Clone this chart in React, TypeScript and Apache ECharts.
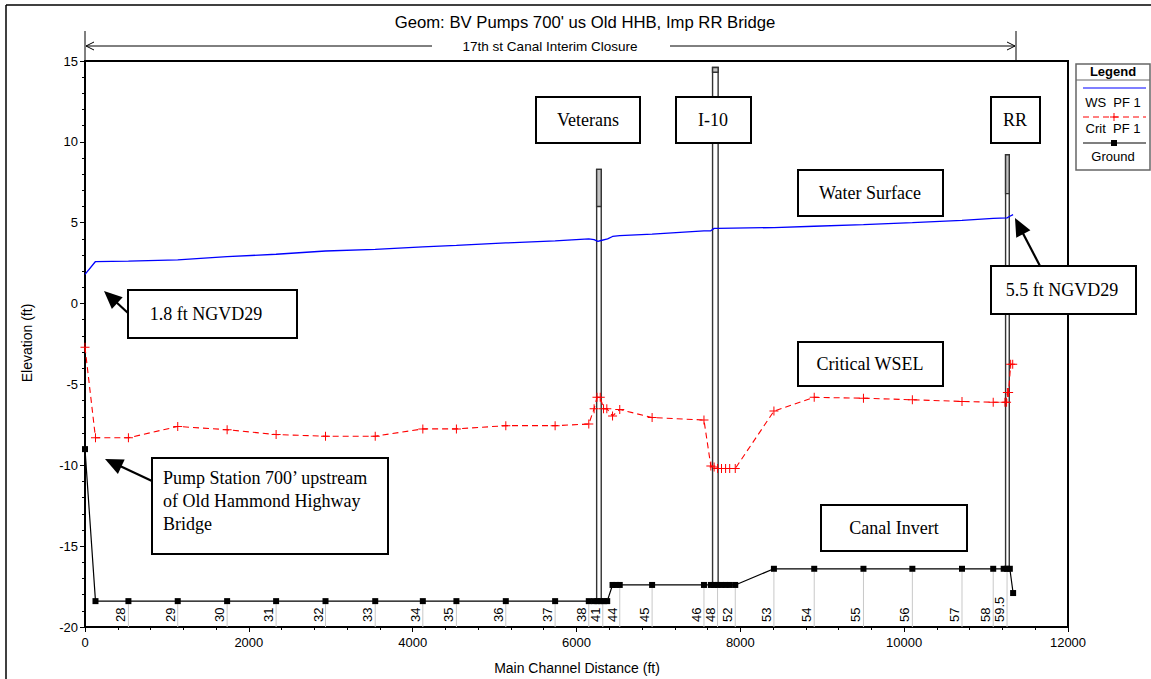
import React, { useEffect, useRef } from "react";
import * as echarts from "echarts";

// Ground profile (channel invert), main channel distance in ft / elevation in ft
const groundX = [0, 128, 530, 1132, 1735, 2333, 2936, 3543, 4124, 4534, 5137, 5739, 6150, 6215, 6255, 6295, 6335, 6375, 6440, 6485, 6528, 6923, 7556, 7640, 7680, 7722, 7770, 7820, 7870, 7938, 8410, 8902, 9503, 10100, 10706, 11087, 11215, 11256, 11290, 11330];
const groundY = [-9.0, -18.4, -18.4, -18.4, -18.4, -18.4, -18.4, -18.4, -18.4, -18.4, -18.4, -18.4, -18.4, -18.4, -18.4, -18.4, -18.4, -18.4, -17.4, -17.4, -17.4, -17.4, -17.4, -17.4, -17.4, -17.4, -17.4, -17.4, -17.4, -17.4, -16.4, -16.4, -16.4, -16.4, -16.4, -16.4, -16.4, -16.4, -16.4, -17.9];

// Water surface profile WS PF 1
const wsX = [0, 128, 530, 1132, 1735, 2333, 2936, 3543, 4124, 4534, 5137, 5739, 6150, 6215, 6260, 6300, 6380, 6440, 6528, 6923, 7556, 7640, 7680, 7722, 8410, 8902, 9503, 10100, 10706, 11087, 11256, 11290, 11330];
const wsY = [1.8, 2.6, 2.62, 2.7, 2.9, 3.05, 3.25, 3.35, 3.5, 3.6, 3.75, 3.88, 4.0, 3.95, 3.85, 3.9, 4.0, 4.15, 4.2, 4.3, 4.5, 4.5, 4.65, 4.65, 4.7, 4.78, 4.88, 5.0, 5.15, 5.27, 5.3, 5.4, 5.5];

// Critical water surface Crit PF 1
const critX = [0, 128, 530, 1132, 1735, 2333, 2936, 3543, 4124, 4534, 5137, 5739, 6150, 6215, 6250, 6290, 6330, 6370, 6440, 6528, 6923, 7556, 7640, 7680, 7722, 7770, 7820, 7870, 7938, 8410, 8902, 9503, 10100, 10706, 11087, 11230, 11250, 11260, 11275, 11300, 11325];
const critY = [-2.7, -8.3, -8.3, -7.6, -7.8, -8.1, -8.2, -8.2, -7.75, -7.75, -7.55, -7.55, -7.45, -6.5, -5.8, -5.8, -6.5, -6.5, -6.95, -6.55, -7.05, -7.2, -10.05, -10.1, -10.2, -10.2, -10.2, -10.2, -10.2, -6.65, -5.8, -5.85, -5.95, -6.05, -6.1, -6.1, -6.1, -5.5, -5.5, -3.75, -3.75];

// River stations labelled along the invert
const stationNames = ["28", "29", "30", "31", "32", "33", "34", "35", "36", "37", "38", "41", "44", "45", "46", "48", "52", "53", "54", "55", "56", "57", "58", "59.5"];
const stationX = [530, 1132, 1735, 2333, 2936, 3543, 4124, 4534, 5137, 5739, 6150, 6321, 6528, 6923, 7556, 7722, 7938, 8410, 8902, 9503, 10100, 10706, 11087, 11256];
const stationY = [-18.4, -18.4, -18.4, -18.4, -18.4, -18.4, -18.4, -18.4, -18.4, -18.4, -18.4, -18.4, -17.4, -17.4, -17.4, -17.4, -17.4, -16.4, -16.4, -16.4, -16.4, -16.4, -16.4, -16.4];

// Bridges: left, right, deck top, low chord, bottom (ft)
const bridgeNames = ["Veterans", "I-10", "RR"];
const bridgeLeft = [6246, 7661, 11238];
const bridgeRight = [6302, 7729, 11283];
const bridgeTop = [8.3, 14.6, 9.2];
const bridgeChord = [6.0, 14.3, 6.8];
const bridgeBottom = [-18.4, -17.4, -16.4];

const X_MIN = 0;
const X_MAX = 12000;
const Y_MIN = -20;
const Y_MAX = 15;

const SANS = "'Liberation Sans', Arial, sans-serif";
const SERIF = "'Liberation Serif', 'Times New Roman', serif";

function arrow(x1: number, y1: number, x2: number, y2: number) {
  const dx = x2 - x1;
  const dy = y2 - y1;
  const len = Math.hypot(dx, dy);
  const ux = dx / len;
  const uy = dy / len;
  const hl = 18;
  const hw = 8;
  const bx = x2 - ux * hl;
  const by = y2 - uy * hl;
  return [
    { type: "line", shape: { x1, y1, x2: bx + ux * 2, y2: by + uy * 2 }, style: { stroke: "#000", lineWidth: 2.2 } },
    {
      type: "polygon",
      shape: { points: [[x2, y2], [bx - uy * hw, by + ux * hw], [bx + uy * hw, by - ux * hw]] },
      style: { fill: "#000" },
    },
  ];
}

function box(x: number, y: number, w: number, h: number) {
  return { type: "rect", shape: { x, y, width: w, height: h }, style: { fill: "#fff", stroke: "#000", lineWidth: 2 }, z: 100 };
}

function label(text: string, x: number, y: number, align = "center", size = 18) {
  return {
    type: "text",
    x,
    y,
    z: 101,
    style: {
      text,
      fill: "#000",
      font: `${size}px ${SERIF}`,
      align,
      verticalAlign: "middle",
      textAlign: align,
      textVerticalAlign: "middle",
    },
  };
}

function plain(text: string, x: number, y: number, size: number, extra: any = {}) {
  const { weight, ...rest } = extra;
  return {
    type: "text",
    x,
    y,
    z: 101,
    ...rest,
    style: {
      text,
      fill: "#000",
      font: `${weight || "normal"} ${size}px ${SANS}`,
      align: "center",
      verticalAlign: "middle",
      textAlign: "center",
      textVerticalAlign: "middle",
    },
  };
}

const crossPath = "path://M4,0h1v4h4v1h-4v4h-1v-4h-4v-1h4z";

export default function App() {
  const ref = useRef<HTMLDivElement>(null);

  useEffect(() => {
    if (!ref.current) return;
    const chart = echarts.init(ref.current, undefined, { renderer: "svg" });

    const bridgeData = bridgeNames.map((_, i) => [bridgeLeft[i], bridgeRight[i], bridgeTop[i], bridgeChord[i], bridgeBottom[i]]);
    const stationData = stationNames.map((_, i) => [stationX[i], stationY[i]]);

    const graphics: any[] = [
      // outer frame
      { type: "line", shape: { x1: 6, y1: 5, x2: 1151, y2: 5 }, style: { stroke: "#000", lineWidth: 1.5 } },
      { type: "line", shape: { x1: 6, y1: 5, x2: 6, y2: 679 }, style: { stroke: "#000", lineWidth: 1.5 } },
      // title
      plain("Geom: BV Pumps 700' us Old HHB, Imp RR Bridge", 585, 22, 16.7),
      // closure dimension line
      { type: "line", shape: { x1: 85, y1: 31, x2: 85, y2: 61 }, style: { stroke: "#000", lineWidth: 1 } },
      { type: "line", shape: { x1: 1016, y1: 31, x2: 1016, y2: 61 }, style: { stroke: "#000", lineWidth: 1 } },
      { type: "line", shape: { x1: 86, y1: 46, x2: 432, y2: 46 }, style: { stroke: "#000", lineWidth: 1 } },
      { type: "line", shape: { x1: 670, y1: 46, x2: 1015, y2: 46 }, style: { stroke: "#000", lineWidth: 1 } },
      { type: "polyline", shape: { points: [[94, 42], [86, 46], [94, 50]] }, style: { stroke: "#000", lineWidth: 1, fill: "none" } },
      { type: "polyline", shape: { points: [[1007, 42], [1015, 46], [1007, 50]] }, style: { stroke: "#000", lineWidth: 1, fill: "none" } },
      plain("17th st Canal Interim Closure", 550, 46, 13.5),
      // axis names
      plain("Elevation (ft)", 27, 343, 14, { rotation: Math.PI / 2 }),
      plain("Main Channel Distance (ft)", 577, 668, 14),
      // bridge name boxes
      box(536, 97, 104, 46), label("Veterans", 588, 120),
      box(676, 97, 75, 46), label("I-10", 713, 120),
      box(991, 97, 49, 46), label("RR", 1015, 120),
      // notes
      box(798, 170, 145, 46), label("Water Surface", 870, 193),
      box(128, 290, 169, 48), label("1.8 ft NGVD29", 206, 314),
      ...arrow(128, 313, 104, 291),
      box(991, 266, 145, 48), label("5.5 ft NGVD29", 1062, 290),
      ...arrow(1040, 266, 1015, 218),
      box(798, 342, 145, 44), label("Critical WSEL", 870, 364),
      box(821, 505, 146, 46), label("Canal Invert", 894, 528),
      box(152, 458, 236, 96),
      label("Pump Station 700\u2019 upstream", 163, 478, "left"),
      label("of Old Hammond Highway", 163, 501, "left"),
      label("Bridge", 163, 524, "left"),
      ...arrow(152, 481, 105, 459),
      // legend
      { type: "rect", shape: { x: 1076, y: 64, width: 74, height: 106 }, style: { fill: "#fff", stroke: "#666", lineWidth: 1.5 }, z: 100 },
      plain("Legend", 1113, 71, 13, { weight: "bold" }),
      { type: "line", shape: { x1: 1076, y1: 80, x2: 1150, y2: 80 }, style: { stroke: "#666", lineWidth: 1 }, z: 101 },
      { type: "line", shape: { x1: 1083, y1: 88, x2: 1146, y2: 88 }, style: { stroke: "#0000ff", lineWidth: 1.2 }, z: 101 },
      plain("WS  PF 1", 1113, 102, 13),
      { type: "line", shape: { x1: 1083, y1: 117, x2: 1146, y2: 117 }, style: { stroke: "#ff0000", lineWidth: 1.1, lineDash: [6, 4] }, z: 101 },
      { type: "polygon", shape: { points: [[1113.5, 113], [1114.5, 113], [1114.5, 116.5], [1118, 116.5], [1118, 117.5], [1114.5, 117.5], [1114.5, 121], [1113.5, 121], [1113.5, 117.5], [1110, 117.5], [1110, 116.5], [1113.5, 116.5]] }, style: { fill: "#ff0000" }, z: 102 },
      plain("Crit  PF 1", 1113, 128, 13),
      { type: "line", shape: { x1: 1083, y1: 143, x2: 1146, y2: 143 }, style: { stroke: "#000", lineWidth: 1.2 }, z: 101 },
      { type: "rect", shape: { x: 1111, y: 140, width: 6, height: 6 }, style: { fill: "#000" }, z: 102 },
      plain("Ground", 1113, 156, 13),
    ];

    chart.setOption({
      animation: false,
      grid: { left: 85, right: 83, top: 61, bottom: 52, show: true, borderColor: "#000", borderWidth: 2, containLabel: false },
      xAxis: {
        type: "value",
        min: X_MIN,
        max: X_MAX,
        interval: 2000,
        axisLine: { show: true, onZero: false, lineStyle: { color: "#000", width: 2 } },
        axisTick: { show: true, length: 5, lineStyle: { color: "#000", width: 1 } },
        minorTick: { show: true, splitNumber: 5, length: 3, lineStyle: { color: "#000", width: 1 } },
        splitLine: { show: false },
        axisLabel: { color: "#000", fontSize: 13, fontFamily: SANS, margin: 9, formatter: (v: number) => String(v) },
      },
      yAxis: {
        type: "value",
        min: Y_MIN,
        max: Y_MAX,
        interval: 5,
        axisLine: { show: true, onZero: false, lineStyle: { color: "#000", width: 2 } },
        axisTick: { show: true, length: 5, lineStyle: { color: "#000", width: 1 } },
        minorTick: { show: true, splitNumber: 5, length: 3, lineStyle: { color: "#000", width: 1 } },
        splitLine: { show: false },
        axisLabel: { color: "#000", fontSize: 13, fontFamily: SANS, margin: 7, formatter: (v: number) => String(v) },
      },
      series: [
        {
          name: "Bridges",
          type: "custom",
          silent: true,
          z: 1,
          encode: { x: [0, 1], y: [2, 3, 4] },
          data: bridgeData,
          renderItem: (_params: any, api: any) => {
            const pTop = api.coord([api.value(0), api.value(2)]);
            const pBot = api.coord([api.value(1), api.value(4)]);
            const pChord = api.coord([api.value(1), api.value(3)]);
            return {
              type: "group",
              children: [
                {
                  type: "rect",
                  shape: { x: pTop[0], y: pTop[1], width: pBot[0] - pTop[0], height: pBot[1] - pTop[1] },
                  style: { fill: "#fff", stroke: "#333", lineWidth: 1.4 },
                },
                {
                  type: "rect",
                  shape: { x: pTop[0], y: pTop[1], width: pChord[0] - pTop[0], height: pChord[1] - pTop[1] },
                  style: { fill: "#c4c4c4", stroke: "#333", lineWidth: 1.4 },
                },
              ],
            };
          },
        },
        {
          name: "Stations",
          type: "custom",
          silent: true,
          z: 2,
          data: stationData,
          renderItem: (params: any, api: any) => {
            const p = api.coord([api.value(0), api.value(1)]);
            const b = api.coord([api.value(0), Y_MIN]);
            return {
              type: "group",
              children: [
                { type: "line", shape: { x1: p[0], y1: p[1] + 3, x2: p[0], y2: b[1] }, style: { stroke: "#c8c8c8", lineWidth: 1 } },
                {
                  type: "text",
                  x: p[0] - 1,
                  y: b[1] - 5,
                  rotation: Math.PI / 2,
                  style: {
                    text: stationNames[params.dataIndex],
                    fill: "#000",
                    font: `13px ${SANS}`,
                    align: "left",
                    verticalAlign: "bottom",
                    textAlign: "left",
                    textVerticalAlign: "bottom",
                  },
                },
              ],
            };
          },
        },
        {
          name: "Ground",
          type: "line",
          z: 5,
          data: groundX.map((x, i) => [x, groundY[i]]),
          symbol: "rect",
          symbolSize: 6,
          showAllSymbol: true,
          lineStyle: { color: "#000", width: 1.2 },
          itemStyle: { color: "#000" },
        },
        {
          name: "WS PF 1",
          type: "line",
          z: 6,
          data: wsX.map((x, i) => [x, wsY[i]]),
          symbol: "none",
          lineStyle: { color: "#0000ff", width: 1.3 },
        },
        {
          name: "Crit PF 1",
          type: "line",
          z: 7,
          data: critX.map((x, i) => [x, critY[i]]),
          symbol: crossPath,
          symbolSize: 9,
          showAllSymbol: true,
          lineStyle: { color: "#ff0000", width: 1.1, type: [6, 4] },
          itemStyle: { color: "#ff0000" },
        },
      ],
      graphic: graphics,
    });

    return () => chart.dispose();
  }, []);

  return <div ref={ref} style={{ position: "fixed", left: 0, top: 0, width: 1151, height: 679, background: "#fff" }} />;
}
